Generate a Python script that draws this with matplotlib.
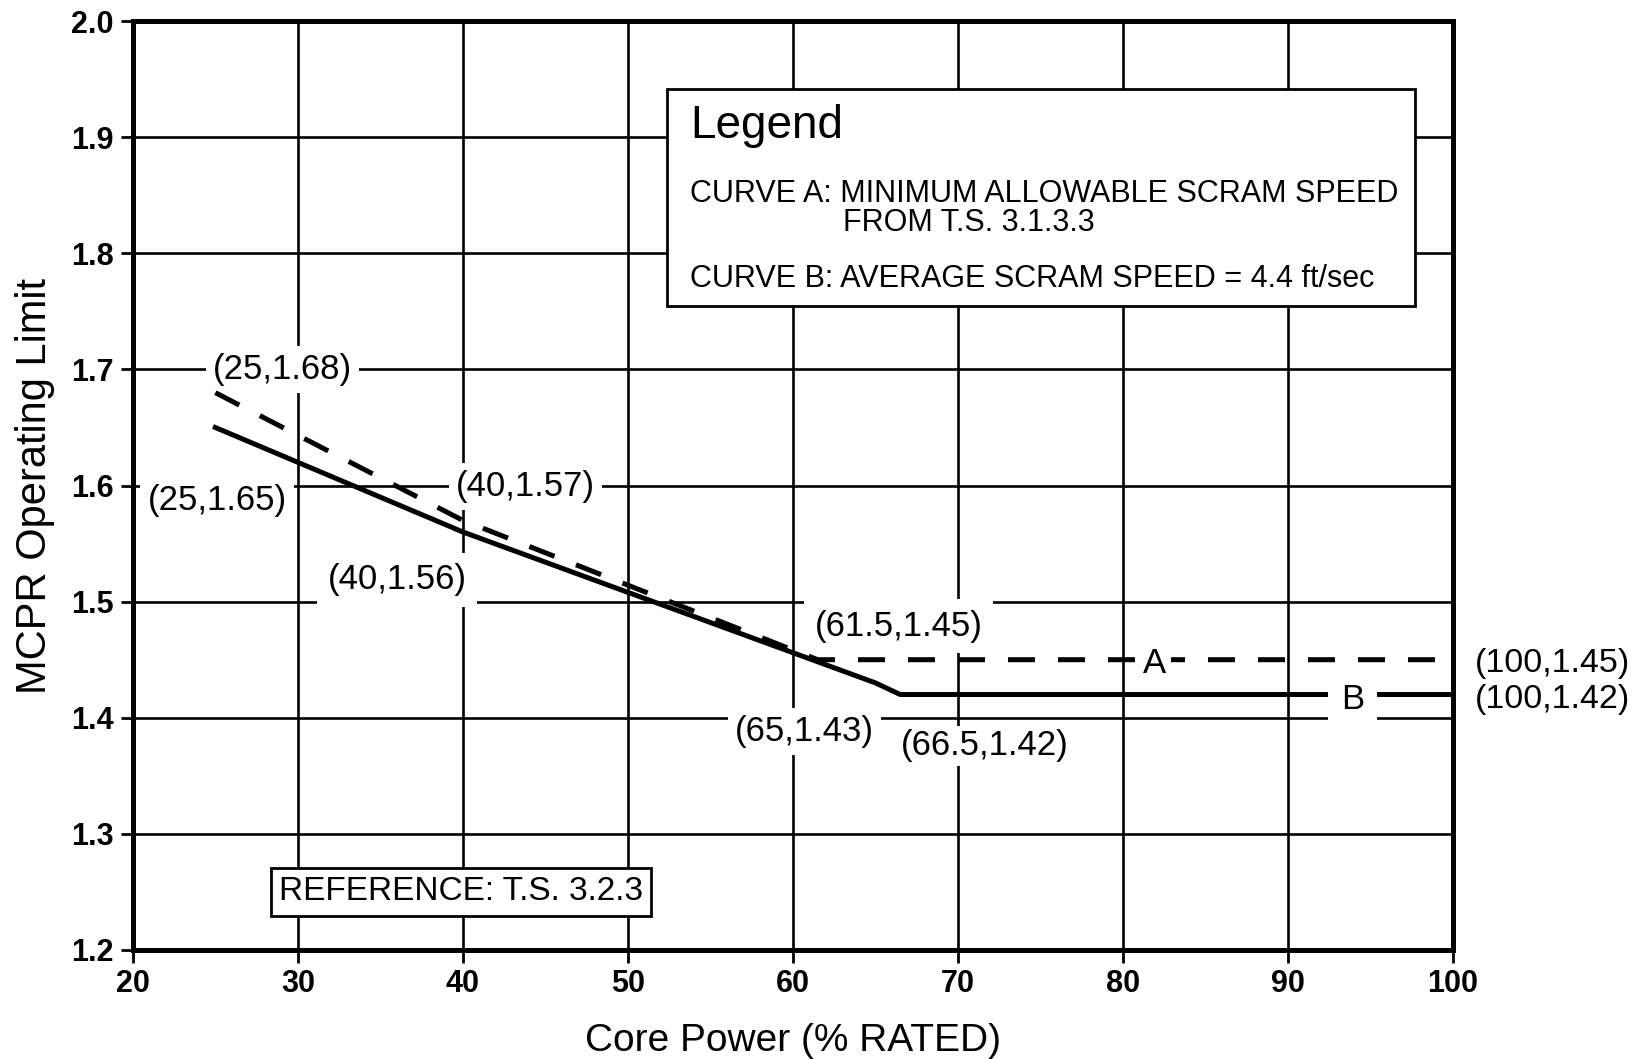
import matplotlib
matplotlib.use("Agg")
import matplotlib.pyplot as plt
from matplotlib.patches import Rectangle
from matplotlib.ticker import FormatStrFormatter

# MCPR operating limit vs core power
CURVE_A_X = [25, 40, 61.5, 100]
CURVE_A_Y = [1.68, 1.57, 1.45, 1.45]
CURVE_B_X = [25, 40, 65, 66.5, 100]
CURVE_B_Y = [1.65, 1.56, 1.43, 1.42, 1.42]

X_TICKS = [20, 30, 40, 50, 60, 70, 80, 90, 100]
Y_TICKS = [1.2, 1.3, 1.4, 1.5, 1.6, 1.7, 1.8, 1.9, 2.0]

X_LABEL = "Core Power (% RATED)"
Y_LABEL = "MCPR Operating Limit"
LEGEND_TITLE = "Legend"
LEGEND_A = ["CURVE A: MINIMUM ALLOWABLE SCRAM SPEED", "FROM T.S. 3.1.3.3"]
LEGEND_B = "CURVE B: AVERAGE SCRAM SPEED = 4.4 ft/sec"
REFERENCE = "REFERENCE: T.S. 3.2.3"

plt.rcParams["font.family"] = ["Liberation Sans", "DejaVu Sans"]

fig = plt.figure(figsize=(16.4, 10.59), dpi=100)
ax = fig.add_axes([0.081, 0.103, 0.805, 0.877])

ax.set_xlim(X_TICKS[0], X_TICKS[-1])
ax.set_ylim(Y_TICKS[0], Y_TICKS[-1])
ax.set_xticks(X_TICKS)
ax.set_yticks(Y_TICKS)
ax.yaxis.set_major_formatter(FormatStrFormatter("%.1f"))
ax.tick_params(direction="out", length=9, width=2, labelsize=22, pad=5)
for lab in ax.get_xticklabels() + ax.get_yticklabels():
    lab.set_fontweight("bold")
ax.grid(True, color="black", lw=1.9)
ax.set_axisbelow(True)
for sp in ax.spines.values():
    sp.set_linewidth(3.6)
    sp.set_zorder(6)

ax.plot(CURVE_A_X, CURVE_A_Y, color="black", lw=3.6, dashes=(5.4, 4.6), zorder=5)
ax.plot(CURVE_B_X, CURVE_B_Y, color="black", lw=3.6, zorder=5)

ax.set_xlabel(X_LABEL, fontsize=28, va="center")
ax.set_ylabel(Y_LABEL, fontsize=30, va="center")
ax.xaxis.set_label_coords(0.5, -0.098)
ax.yaxis.set_label_coords(-0.074, 0.5)


def point_label(xs, ys, i, tx, ty, ha="center", pad=0.2, size=25):
    ax.text(tx, ty, f"({xs[i]:g},{ys[i]:g})", fontsize=size,
            ha=ha, va="center", zorder=4, clip_on=False,
            bbox=dict(boxstyle=f"square,pad={pad}", fc="white", ec="none"))


point_label(CURVE_A_X, CURVE_A_Y, 0, 29.06, 1.700)
point_label(CURVE_B_X, CURVE_B_Y, 0, 25.1, 1.587)
point_label(CURVE_A_X, CURVE_A_Y, 1, 43.8, 1.599)
point_label(CURVE_B_X, CURVE_B_Y, 1, 36.0, 1.519, pad=0.3)
point_label(CURVE_A_X, CURVE_A_Y, 2, 66.4, 1.479, pad=0.3)
point_label(CURVE_B_X, CURVE_B_Y, 2, 60.7, 1.388)
point_label(CURVE_B_X, CURVE_B_Y, 3, 71.6, 1.376, pad=0.1)
point_label(CURVE_A_X, CURVE_A_Y, 3, 101.3, 1.447, ha="left", pad=0.05, size=24.5)
point_label(CURVE_B_X, CURVE_B_Y, 4, 101.3, 1.416, ha="left", pad=0.05, size=24.5)

ax.text(81.9, 1.447, "A", fontsize=25, ha="center", va="center",
        zorder=6, bbox=dict(boxstyle="square,pad=0.15", fc="white", ec="none"))
ax.text(93.9, 1.416, "B", fontsize=25, ha="center", va="center",
        zorder=6, bbox=dict(boxstyle="square,pad=0.38", fc="white", ec="none"))

# legend box
ax.add_patch(Rectangle((0.4045, 0.693), 0.5665, 0.234, transform=ax.transAxes,
                       fc="white", ec="black", lw=2, zorder=4))
ax.text(0.422, 0.8875, LEGEND_TITLE, transform=ax.transAxes, fontsize=33,
        ha="left", va="center", zorder=5)
ax.text(0.422, 0.8138, LEGEND_A[0], transform=ax.transAxes, fontsize=22,
        ha="left", va="center", zorder=5)
ax.text(0.538, 0.7826, LEGEND_A[1], transform=ax.transAxes, fontsize=22,
        ha="left", va="center", zorder=5)
ax.text(0.422, 0.7223, LEGEND_B, transform=ax.transAxes, fontsize=22,
        ha="left", va="center", zorder=5)

ax.text(0.2485, 0.0624, REFERENCE, transform=ax.transAxes, fontsize=24,
        ha="center", va="center", zorder=5,
        bbox=dict(boxstyle="square,pad=0.25", fc="white", ec="black", lw=2))

fig.savefig("out.png", dpi=100)
